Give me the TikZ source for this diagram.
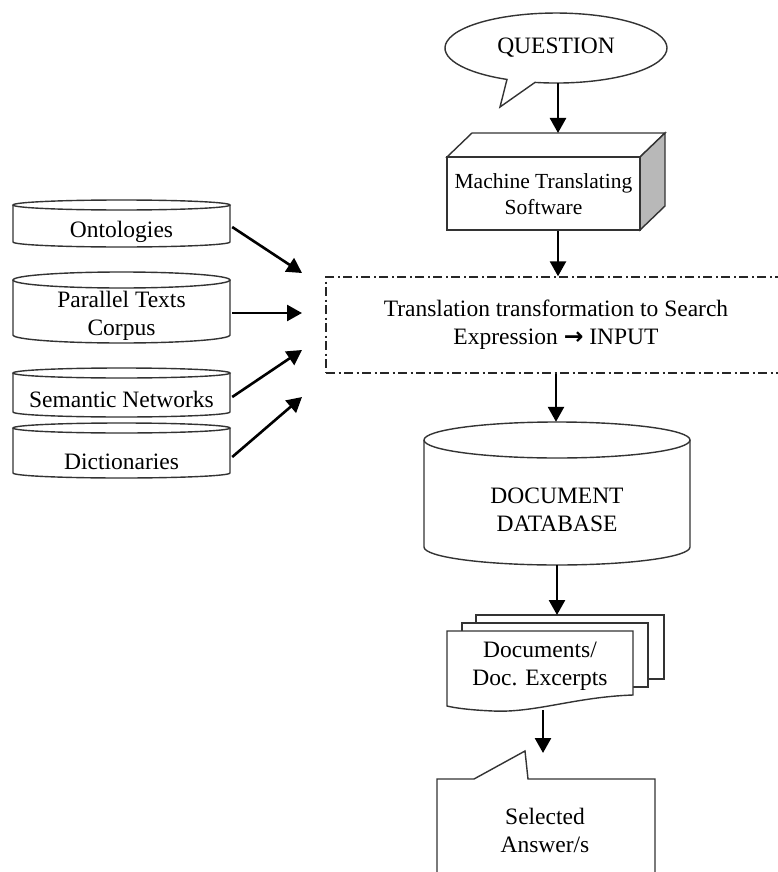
\documentclass[tikz,border=0pt]{standalone}
\usepackage{fontspec}
\setmainfont{Liberation Serif}
\newfontfamily\arrowfont{DejaVu Sans}
\usetikzlibrary{arrows.meta,calc}
\newcommand{\mydbcyl}[5]{%
  \draw[outl] ({#1-#4},#2) -- ({#1-#4},#3) arc[start angle=180,end angle=360,x radius=#4pt,y radius=#5pt] -- ({#1+#4},#2);
  \draw[outl] (#1,#2) ellipse[x radius=#4pt,y radius=#5pt];}
\begin{document}
\begin{tikzpicture}[x=1pt,y=-1pt,
  outl/.style={draw=black!80, line width=1.4pt, fill=white},
  arr/.style={draw=black, line width=2.6pt, -{Triangle[width=16pt,length=15pt]}},
  txt/.style={align=center, inner sep=0pt, text=black, font=\fontsize{23.5}{28}\selectfont},
  frame/.style={inner sep=0pt, draw=none}]
\clip (0,0) rectangle (778,872);
\fill[white] (0,0) rectangle (778,872);

% QUESTION bubble
\draw[outl] (535,82.4) arc[start angle=259.1,end angle=603.8,x radius=111pt,y radius=35pt] -- (500,107) -- cycle;
\node[txt, frame, minimum width=222pt, minimum height=70pt] (q) at (556,48) {QUESTION};

% Machine translating box (3D)
\draw[outl] (447,157) -- (472,133) -- (665,133) -- (640,157) -- cycle;
\draw[outl, fill=black!28] (640,157) -- (665,133) -- (665,206) -- (640,230) -- cycle;
\draw[outl] (447,157) rectangle (640,230);
\node[txt, frame, font=\fontsize{21.5}{26}\selectfont, minimum width=193pt, minimum height=73pt] (mts) at (543.5,194.5) {Machine Translating\\Software};
\coordinate (mtstop) at (558,133);

% Translation box
\node[txt, draw=black!85, line width=1.4pt, dash pattern=on 9pt off 3.5pt on 2pt off 3.5pt,
      minimum width=460pt, minimum height=96pt] (trans) at (556,325)
      {Translation transformation to Search\\Expression {\arrowfont\bfseries →} INPUT};

% Left cylinders
\mydbcyl{121.5}{205}{242}{108.5}{5}
\mydbcyl{121.5}{280}{335}{108.5}{8}
\mydbcyl{121.5}{373}{412}{108.5}{5}
\mydbcyl{121.5}{428}{473}{108.5}{5}
\node[txt, minimum width=217pt] (onto) at (121.5,232) {Ontologies};
\node[txt, minimum width=217pt] (par) at (121.5,316) {Parallel Texts\\Corpus};
\node[txt, minimum width=217pt] (sem) at (121.5,399) {Semantic Networks};
\node[txt, minimum width=217pt] (dic) at (121.5,462) {Dictionaries};

% Document database
\mydbcyl{557}{440}{547}{133}{18}
\node[frame, minimum width=266pt, minimum height=143pt] (db) at (557,493.5) {};
\node[txt] (dbtext) at (557,510) {DOCUMENT\\DATABASE};

% Document stack
\draw[outl] (476,615) rectangle (664,679);
\draw[outl] (462,623) rectangle (648,687);
\draw[outl] (447,706) -- (447,631) -- (633,631) -- (633,695)
  .. controls (575,697) and (535,713) .. (493,711)
  .. controls (470,710) and (455,708) .. (447,706) -- cycle;
\node[frame, minimum width=186pt, minimum height=79pt] (front) at (540,670.5) {};
\node[txt] (docs) at (540,666) {Documents/\\Doc. Excerpts};
\coordinate (stacktop) at (557,615);

% Selected answer callout
\draw[outl] (437,890) -- (437,779) -- (474,779) -- (525,751) -- (528,779) -- (655,779) -- (655,890);
\node[txt] (ans) at (545,830) {Selected\\Answer/s};
\coordinate (anstip) at (543,753);

% Arrows
\coordinate (in1) at (302,273);
\coordinate (in2) at (302,313);
\coordinate (in3) at (302,350);
\coordinate (in4) at (302,397);
\draw[arr] ([xshift=2pt,yshift=5pt]onto.east) -- (in1);
\draw[arr] ([xshift=2pt,yshift=3pt]par.east) -- (in2);
\draw[arr] ([xshift=2pt,yshift=2pt]sem.east) -- (in3);
\draw[arr] ([xshift=2pt,yshift=5pt]dic.east) -- (in4);

\draw[arr] (q.south -| mtstop) -- (mtstop);
\draw[arr] (mts.south -| mtstop) -- (trans.north -| mtstop);
\draw[arr] (trans.south) -- (trans.south |- db.north);
\draw[arr] (db.south) -- (stacktop);
\draw[arr] ([xshift=3pt]front.south) -- ([xshift=3pt]front.south |- anstip);
\end{tikzpicture}
\end{document}
